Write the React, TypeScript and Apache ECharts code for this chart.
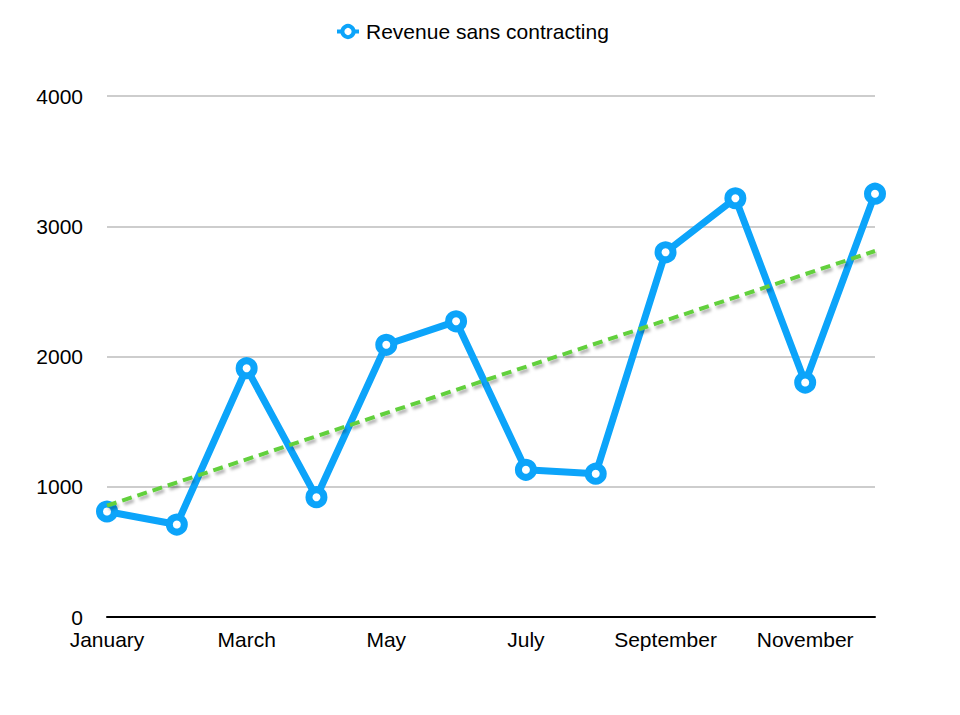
import { useRef, useEffect } from "react";
import * as echarts from "echarts";

const months = [
  "January", "February", "March", "April", "May", "June",
  "July", "August", "September", "October", "November", "December",
];
const revenue = [810, 710, 1910, 920, 2090, 2270, 1130, 1100, 2800, 3215, 1800, 3250];
// trend line end points
const trendStart = 855;
const trendEnd = 2810;
const yTicks = { min: 0, max: 4000, interval: 1000 };

const BLUE = "#0ca4fa";
const GREEN = "#62d03c";
const FONT = "'Liberation Sans', Arial, sans-serif";
const FS = 21;

export default function App() {
  const containerRef = useRef<HTMLDivElement>(null);

  useEffect(() => {
    if (!containerRef.current) return;
    const chart = echarts.init(containerRef.current, undefined, { renderer: "svg" });

    const option: echarts.EChartsOption = {
      backgroundColor: "#fff",
      animation: false,
      textStyle: { fontFamily: FONT },
      legend: {
        data: ["Revenue sans contracting"],
        top: 16,
        left: 330,
        itemWidth: 22,
        itemHeight: 14,
        itemGap: 10,
        itemStyle: { borderWidth: 4 },
        lineStyle: { width: 4 },
        textStyle: { color: "#000", fontSize: FS, fontFamily: FONT, padding: [0, 0, 0, 2] },
      },
      grid: { left: 107, right: 85, top: 96, bottom: 98, outerBoundsMode: "none" } as any,
      xAxis: {
        type: "category",
        data: months,
        boundaryGap: false,
        axisLine: { lineStyle: { color: "#000", width: 2 } },
        axisTick: { show: false },
        axisLabel: { interval: 1, color: "#000", fontSize: FS, margin: 12, fontFamily: FONT },
      },
      yAxis: {
        type: "value",
        min: yTicks.min,
        max: yTicks.max,
        interval: yTicks.interval,
        axisLine: { show: false },
        axisTick: { show: false },
        axisLabel: {
          color: "#000",
          fontSize: FS,
          margin: 24,
          fontFamily: FONT,
          formatter: (v: number) => String(v),
        },
        splitLine: { lineStyle: { color: "#bcbcbc", width: 1.5 } },
      },
      series: [
        {
          name: "Revenue sans contracting",
          type: "line",
          data: revenue,
          symbol: "circle",
          symbolSize: 15,
          lineStyle: { color: BLUE, width: 7 },
          itemStyle: { color: "#fff", borderColor: BLUE, borderWidth: 7 },
          z: 2,
        },
        {
          name: "Trend",
          type: "line",
          data: [
            [months[0], trendStart],
            [months[months.length - 1], trendEnd],
          ],
          symbol: "none",
          lineStyle: {
            color: GREEN,
            width: 4,
            type: [10, 6],
            shadowColor: "rgba(0,0,0,0.3)",
            shadowBlur: 3,
            shadowOffsetX: 2,
            shadowOffsetY: 3,
          },
          z: 3,
        },
      ],
    };

    chart.setOption(option);
    return () => chart.dispose();
  }, []);

  return (
    <div
      ref={containerRef}
      style={{ position: "fixed", left: 0, top: 0, width: 960, height: 715 }}
    />
  );
}
